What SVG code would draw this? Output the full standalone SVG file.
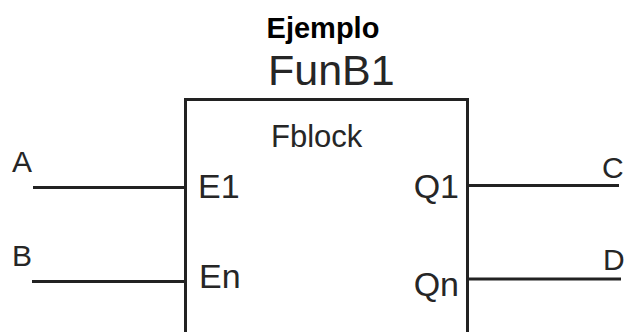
<svg xmlns="http://www.w3.org/2000/svg" width="625" height="332" viewBox="0 0 625 332">
  <style>
    .t { font-family: "Liberation Sans", Arial, sans-serif; fill: #262626; }
    .title { font-weight: bold; font-size: 29px; fill: #000; }
    .name { font-size: 43px; }
    .type { font-size: 31px; }
    .port { font-size: 34px; }
    .sig { font-size: 30px; }
    .wire { stroke: #222; stroke-width: 3; fill: none; }
  </style>
  <rect width="625" height="332" fill="#fff"/>
  <text class="t title" x="323" y="38" text-anchor="middle">Ejemplo</text>

  <g id="fblock">
    <text class="t name" x="268" y="85">FunB1</text>
    <path class="wire" d="M185.5,340 V99.5 H467.5 V340"/>
    <text class="t type" x="271" y="147">Fblock</text>
    <text class="t port" x="198" y="198">E1</text>
    <text class="t port" x="199" y="288">En</text>
    <text class="t port" x="459" y="198" text-anchor="end">Q1</text>
    <text class="t port" x="459" y="296" text-anchor="end">Qn</text>
  </g>

  <g id="signal-a"><text class="t sig" x="12" y="172">A</text></g>
  <g id="signal-b"><text class="t sig" x="12" y="266">B</text></g>
  <g id="signal-c"><text class="t sig" x="602" y="178">C</text></g>
  <g id="signal-d"><text class="t sig" x="603" y="270">D</text></g>

  <g id="connectors">
    <line class="wire" x1="33" y1="187.5" x2="185" y2="187.5"/>
    <line class="wire" x1="32" y1="281.5" x2="185" y2="281.5"/>
    <line class="wire" x1="468" y1="185.5" x2="619" y2="185.5"/>
    <line class="wire" x1="468" y1="279" x2="621" y2="279"/>
  </g>
</svg>
